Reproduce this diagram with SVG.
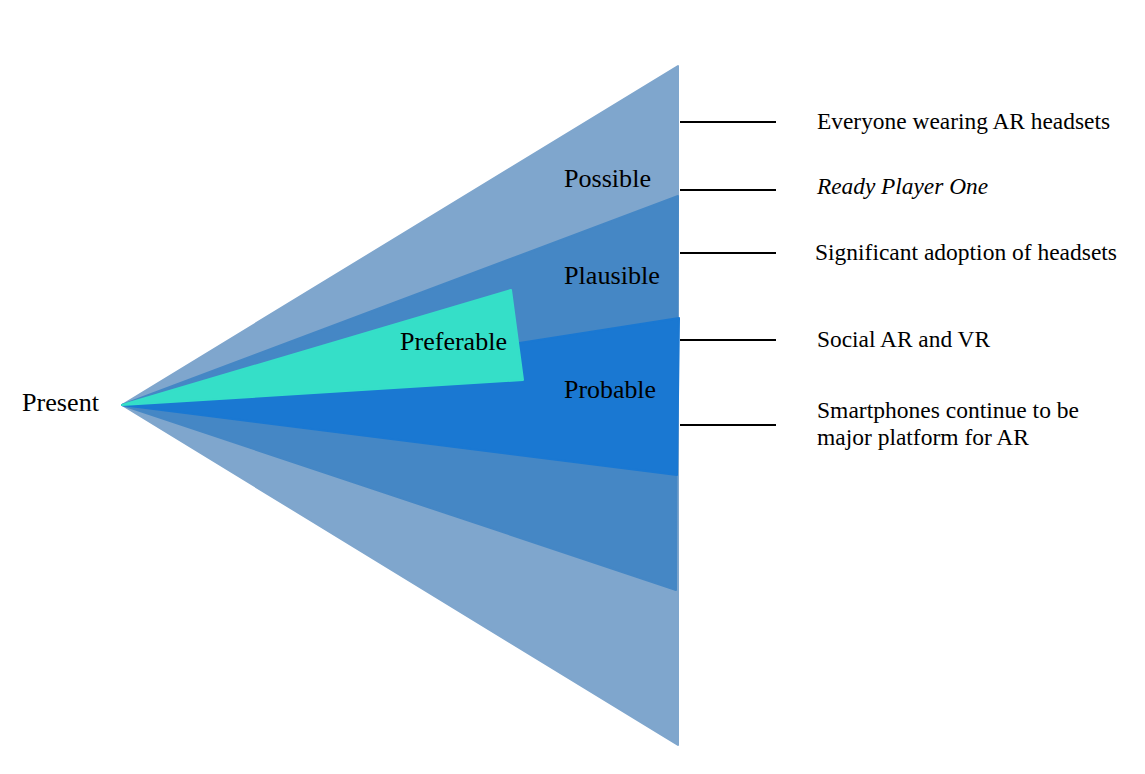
<svg xmlns="http://www.w3.org/2000/svg" width="1145" height="774" viewBox="0 0 1145 774">
<style>
.lbl{font-family:"Liberation Serif","Times New Roman",serif;font-size:25px;fill:#000}
.note{font-family:"Liberation Serif","Times New Roman",serif;font-size:23px;fill:#000}
.conn{stroke:#000;stroke-width:2;fill:none}
</style>
<rect width="1145" height="774" fill="#fff"/>
<g id="possible">
<polygon points="122,405 678,66 678,745" fill="#7fa6cd" stroke="#7fa6cd" stroke-width="2" stroke-linejoin="round"/>
<text class="lbl" x="564" y="187" textLength="87" lengthAdjust="spacingAndGlyphs">Possible</text>
</g>
<g id="plausible">
<polygon points="122,405 678,196 676,590" fill="#4587c5" stroke="#4587c5" stroke-width="2" stroke-linejoin="round"/>
<text class="lbl" x="564" y="284" textLength="96" lengthAdjust="spacingAndGlyphs">Plausible</text>
</g>
<g id="probable">
<polygon points="122,405 679,318 677,475" fill="#1a78d2" stroke="#1a78d2" stroke-width="2" stroke-linejoin="round"/>
<text class="lbl" x="564" y="398" textLength="92" lengthAdjust="spacingAndGlyphs">Probable</text>
</g>
<g id="preferable">
<polygon points="122,405 511,290 523,380" fill="#35dfc8" stroke="#35dfc8" stroke-width="2" stroke-linejoin="round"/>
<text class="lbl" x="400" y="350" textLength="107" lengthAdjust="spacingAndGlyphs">Preferable</text>
</g>
<g id="present">
<text class="lbl" x="22" y="411" textLength="77" lengthAdjust="spacingAndGlyphs">Present</text>
</g>
<g id="connectors">
<line class="conn" x1="680" y1="122" x2="776" y2="122"/>
<line class="conn" x1="680" y1="190" x2="776" y2="190"/>
<line class="conn" x1="680" y1="253" x2="776" y2="253"/>
<line class="conn" x1="680" y1="340" x2="776" y2="340"/>
<line class="conn" x1="680" y1="425" x2="776" y2="425"/>
</g>
<g id="notes">
<text class="note" x="817" y="129" textLength="293" lengthAdjust="spacingAndGlyphs">Everyone wearing AR headsets</text>
<text class="note" x="817" y="194" font-style="italic" textLength="171" lengthAdjust="spacingAndGlyphs">Ready Player One</text>
<text class="note" x="815" y="260" textLength="302" lengthAdjust="spacingAndGlyphs">Significant adoption of headsets</text>
<text class="note" x="817" y="347" textLength="173" lengthAdjust="spacingAndGlyphs">Social AR and VR</text>
<text class="note" x="817" y="418" textLength="262" lengthAdjust="spacingAndGlyphs">Smartphones continue to be</text>
<text class="note" x="817" y="445" textLength="212" lengthAdjust="spacingAndGlyphs">major platform for AR</text>
</g>
</svg>
